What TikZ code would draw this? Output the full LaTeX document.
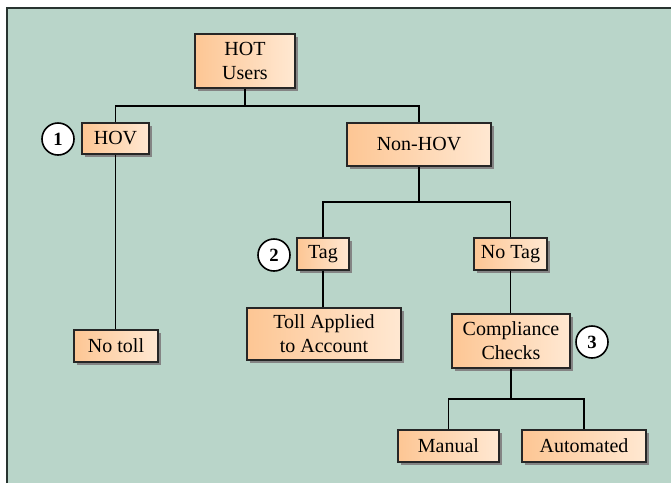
\documentclass[tikz,border=0pt]{standalone}
\usepackage{fontspec}
\setmainfont{Liberation Serif}
\usetikzlibrary{shadows}
\definecolor{panelgreen}{RGB}{185,213,201}
\definecolor{panelline}{RGB}{40,52,48}
\definecolor{boxdeep}{RGB}{253,198,148}
\definecolor{boxpale}{RGB}{255,232,210}
\definecolor{shadowgray}{RGB}{132,132,132}
\begin{document}
\begin{tikzpicture}[x=0.75pt, y=-0.75pt, line width=1.1pt,
    font=\fontsize{15}{18}\selectfont,
    tree/.style={draw=black!85, left color=boxdeep, right color=boxpale,
      align=center, inner sep=1pt,
      drop shadow={shadow xshift=2.4pt, shadow yshift=-2.4pt, fill=shadowgray, opacity=1}},
    badge/.style={circle, draw, line width=1.2pt, fill=white, minimum size=24pt,
      inner sep=0pt, font=\fontsize{14}{14}\selectfont\bfseries}]
  \useasboundingbox[fill=white] (0,0) rectangle (671,483);
  \fill[panelgreen] (7,8) rectangle (671,483);
  \draw[panelline, line width=1.3pt] (7,483) -- (7,8) -- (671,8);
  % boxes
  \node[tree, minimum width=75pt, minimum height=40.5pt] (hot) at (245,61) {HOT\\Users};
  \node[tree, minimum width=50.25pt, minimum height=23.25pt] (hov) at (115.5,138.5) {HOV};
  \node[tree, minimum width=63pt, minimum height=24pt] (notoll) at (116,346) {No toll};
  \node[tree, minimum width=108pt, minimum height=32.25pt] (nonhov) at (419,144.5) {Non-HOV};
  \node[tree, minimum width=39pt, minimum height=24pt] (tag) at (323,254) {Tag};
  \node[tree, minimum width=115.5pt, minimum height=39pt] (toll) at (324,334) {Toll Applied\\to Account};
  \node[tree, minimum width=54.75pt, minimum height=24pt] (notag) at (510.5,254) {No Tag};
  \node[tree, minimum width=88.5pt, minimum height=40.5pt] (comp) at (511,341) {Compliance\\Checks};
  \node[tree, minimum width=75.75pt, minimum height=24pt] (manual) at (448.5,446) {Manual};
  \node[tree, minimum width=93pt, minimum height=24pt] (auto) at (584,446) {Automated};
  % numbered markers
  \node[badge] (one) at (58,139) {1};
  \node[badge] (two) at (274,255) {2};
  \node[badge] (three) at (592,342) {3};
  % connectors
  \coordinate (split1) at (245,106);
  \coordinate (split2) at (419,202);
  \coordinate (split3) at (511,399);
  \draw (hot.south) -- (split1);
  \draw (hov.north) |- (split1) -| (nonhov.north);
  \draw (hov.south) -- (hov.south |- notoll.north);
  \draw (nonhov.south) -- (split2);
  \draw (tag.north) |- (split2) -| (notag.north);
  \draw (tag.south) -- (tag.south |- toll.north);
  \draw (notag.south) -- (notag.south |- comp.north);
  \draw (comp.south) -- (split3);
  \draw (manual.north) |- (split3) -| (auto.north);
\end{tikzpicture}
\end{document}
